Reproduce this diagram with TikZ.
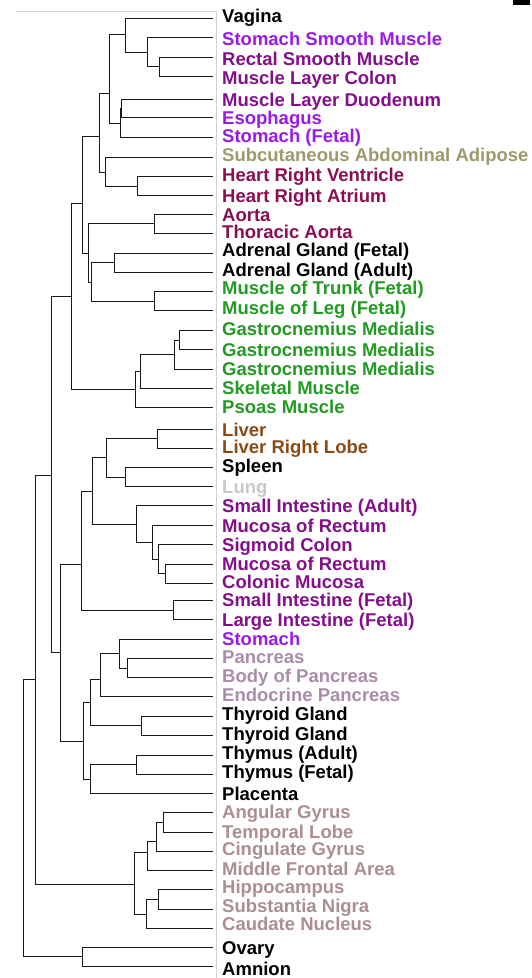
\documentclass[tikz,border=0pt]{standalone}
\usepackage{fontspec}
\setmainfont{Liberation Sans}
\definecolor{violetM}{HTML}{9A1AE6}
\definecolor{purpleD}{HTML}{83108A}
\definecolor{oliveA}{HTML}{9C9A6C}
\definecolor{wine}{HTML}{8A0F52}
\definecolor{greenM}{HTML}{239A23}
\definecolor{brownL}{HTML}{8B4A14}
\definecolor{grayL}{HTML}{C8C8C8}
\definecolor{mauveP}{HTML}{A98CAA}
\definecolor{roseB}{HTML}{AD8E8E}

\begin{document}
\begin{tikzpicture}[x=1pt, y=-1pt,
  branch/.style={black!90, line width=1pt, line cap=rect},
  lbl/.style={anchor=base west, inner sep=0pt, font=\bfseries\fontsize{18.5}{20}\selectfont}]
  \useasboundingbox (0,0) rectangle (531,978);
  % Cadre
  \draw[gray!35, line width=0.8pt] (16,11.7) -- (216,11.7) -- (216,978);
  \fill (512.7,0) rectangle (530,4.7);
  % Feuilles et etiquettes
  \foreach \i/\ly/\by/\col/\txt in {
    1/18.3/22/black/Vagina,
    2/37.7/45.7/violetM/Stomach Smooth Muscle,
    3/57/65.7/purpleD/Rectal Smooth Muscle,
    4/76.3/84.3/purpleD/Muscle Layer Colon,
    5/99/106/purpleD/Muscle Layer Duodenum,
    6/117.7/124/violetM/Esophagus,
    7/137/142.3/violetM/{Stomach (Fetal)},
    8/157/161.7/oliveA/Subcutaneous Abdominal Adipose,
    9/176/181/wine/Heart Right Ventricle,
    10/195.3/202.7/wine/Heart Right Atrium,
    11/214.3/221.7/wine/Aorta,
    12/233.3/238.7/wine/Thoracic Aorta,
    13/253/256.7/black/{Adrenal Gland (Fetal)},
    14/272.3/276/black/{Adrenal Gland (Adult)},
    15/291.7/294.3/greenM/{Muscle of Trunk (Fetal)},
    16/310.7/314/greenM/{Muscle of Leg (Fetal)},
    17/330.3/335.7/greenM/Gastrocnemius Medialis,
    18/349.7/356/greenM/Gastrocnemius Medialis,
    19/369/375.3/greenM/Gastrocnemius Medialis,
    20/388.3/394.3/greenM/Skeletal Muscle,
    21/407.7/413.3/greenM/Psoas Muscle,
    22/429/436.3/brownL/Liver,
    23/448.3/453.7/brownL/Liver Right Lobe,
    24/467.7/472.7/black/Spleen,
    25/486.7/493.3/grayL/Lung,
    26/505.7/512.7/purpleD/{Small Intestine (Adult)},
    27/525/532.7/purpleD/Mucosa of Rectum,
    28/544.3/551.7/purpleD/Sigmoid Colon,
    29/564/570/purpleD/Mucosa of Rectum,
    30/583.3/588.3/purpleD/Colonic Mucosa,
    31/600/606/purpleD/{Small Intestine (Fetal)},
    32/619.3/626/purpleD/{Large Intestine (Fetal)},
    33/639/645/violetM/Stomach,
    34/658.7/663.3/mauveP/Pancreas,
    35/677.7/682.3/mauveP/Body of Pancreas,
    36/696.7/701.3/mauveP/Endocrine Pancreas,
    37/716.3/720.7/black/Thyroid Gland,
    38/735.3/740/black/Thyroid Gland,
    39/755/759.3/black/{Thymus (Adult)},
    40/774/778.3/black/{Thymus (Fetal)},
    41/793.3/800/black/Placenta,
    42/812.7/818.7/roseB/Angular Gyrus,
    43/832/838.3/roseB/Temporal Lobe,
    44/851/855.3/roseB/Cingulate Gyrus,
    45/870.3/875/roseB/Middle Frontal Area,
    46/889.7/893.3/roseB/Hippocampus,
    47/909/912.3/roseB/Substantia Nigra,
    48/928.3/930/roseB/Caudate Nucleus,
    49/947/954/black/Ovary,
    50/966.7/975/black/Amnion}{
    \coordinate (l\i) at (212,\ly);
    \node[lbl, text=\col] (t\i) at (222,\by) {\txt};
  }
  % Noeuds internes
  \foreach \n/\x/\y in {n34/159/66.7, n234/147/52.3, n1234/125.7/34.3,
    n56/121.7/108.3, n567/120.7/123, nSM/109.7/93, n910/137.7/186,
    n8910/105/172, nA/99/136.7, n1112/154/223.7, n1314/114.3/262.7,
    n1516/154/301, nB1/91.3/282, nB/88.3/253.3, nC/82.3/203.3,
    n1718/179/340, n19/174/354, n20/140.7/371.3, n21/135.7/389.3,
    nD/71.7/296.7, n2223/157.7/438.3, n2425/125.3/477.3, nLi/106.3/457.7,
    n2930/165.7/573.7, n28/158/559.3, n27/152.3/542.3, n26/136.7/524,
    nE/92.7/491, n3132/173.7/610, nF/81/564.7, n3435/127.7/668.2,
    n33/119.3/653.7, n36/100/679.7, n3738/141/725.7, nG/90.3/702.7,
    n3940/136.3/764.7, n41/90.3/779, nH/83.3/741, nI/60/652.7,
    nJ/51.7/475, n4243/163.3/822.3, n44/156.7/841.7, n45/147.3/852.7,
    n4647/158.3/899.3, n48/146/914, nBr/134.3/884, nK/35/679.3,
    n4950/82.7/956.7, root/23.3/818}
    \coordinate (\n) at (\x,\y);
  % Branches
  \foreach \p/\ca/\cb in {n34/l3/l4, n234/l2/n34, n1234/l1/n234,
    n56/l5/l6, n567/n56/l7, nSM/n1234/n567, n910/l9/l10,
    n8910/l8/n910, nA/nSM/n8910, n1112/l11/l12, n1314/l13/l14,
    n1516/l15/l16, nB1/n1314/n1516, nB/n1112/nB1, nC/nA/nB,
    n1718/l17/l18, n19/n1718/l19, n20/n19/l20, n21/n20/l21,
    nD/nC/n21, n2223/l22/l23, n2425/l24/l25, nLi/n2223/n2425,
    n2930/l29/l30, n28/l28/n2930, n27/l27/n28, n26/l26/n27,
    nE/nLi/n26, n3132/l31/l32, nF/nE/n3132, n3435/l34/l35,
    n33/l33/n3435, n36/n33/l36, n3738/l37/l38, nG/n36/n3738,
    n3940/l39/l40, n41/n3940/l41, nH/nG/n41, nI/nF/nH,
    nJ/nD/nI, n4243/l42/l43, n44/n4243/l44, n45/n44/l45,
    n4647/l46/l47, n48/n4647/l48, nBr/n45/n48, nK/nJ/nBr,
    n4950/l49/l50, root/nK/n4950}
    \draw[branch] (\p) |- (\ca) (\p) |- (\cb);
\end{tikzpicture}
\end{document}
